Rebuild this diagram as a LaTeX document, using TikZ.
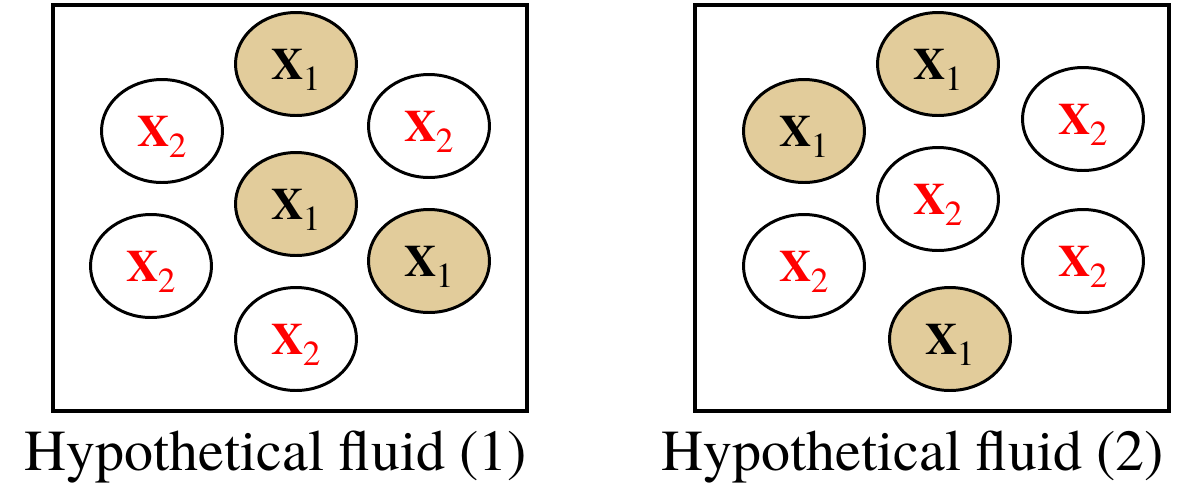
\documentclass[tikz,border=0pt]{standalone}
\usepackage{fontspec}
\setmainfont{texgyretermes}[Extension=.otf, UprightFont=*-regular, BoldFont=*-bold, ItalicFont=*-italic, BoldItalicFont=*-bolditalic]
\usepackage{xcolor}
\usepackage{tikz}
\usetikzlibrary{shapes.geometric}

\definecolor{sand}{RGB}{226,204,155}
\newcommand{\spc}[1]{X\kern-0.5pt\raisebox{-6.3pt}[0pt][0pt]{\fontsize{20}{20}\selectfont\mdseries #1}}

\begin{document}
\begin{tikzpicture}[x=0.02cm, y=-0.02cm,
		particle/.style={ellipse, draw, line width=1.7pt, minimum width=2.42cm, minimum height=2.06cm, inner sep=0pt,
				font=\fontsize{25.5}{30}\selectfont\bfseries},
		xone/.style={particle, fill=sand, text=black},
		xtwo/.style={particle, fill=white, text=red},
		frame/.style={draw, line width=2pt, minimum width=9.48cm, minimum height=8.12cm},
		caption/.style={anchor=base, font=\fontsize{33}{40}\selectfont}]
			\useasboundingbox (0,0) rectangle (1181,485);

			% the two containers
			\node[frame] (boxa) at (290,208) {};
			\node[frame] (boxb) at (932,208) {};

			% fluid (1)
			\foreach \n/\x/\y in {a/296/64, b/296/204, c/429/261} {
					\node[xone] (la\n) at (\x,\y) {\spc{1}};
				}
			\foreach \n/\x/\y in {a/162/131, b/429/126, c/151/266, d/296/339} {
					\node[xtwo] (lb\n) at (\x,\y) {\spc{2}};
				}

			% fluid (2)
			\foreach \n/\x/\y in {a/938/64, b/804/131, c/950/339} {
					\node[xone] (ra\n) at (\x,\y) {\spc{1}};
				}
			\foreach \n/\x/\y in {a/1083/119, b/938/199, c/804/266, d/1083/261} {
					\node[xtwo] (rb\n) at (\x,\y) {\spc{2}};
				}

			\node[caption] (capa) at (276,470) {Hypothetical fluid (1)};
			\node[caption] (capb) at (913,470) {Hypothetical fluid (2)};
		\end{tikzpicture}
\end{document}
